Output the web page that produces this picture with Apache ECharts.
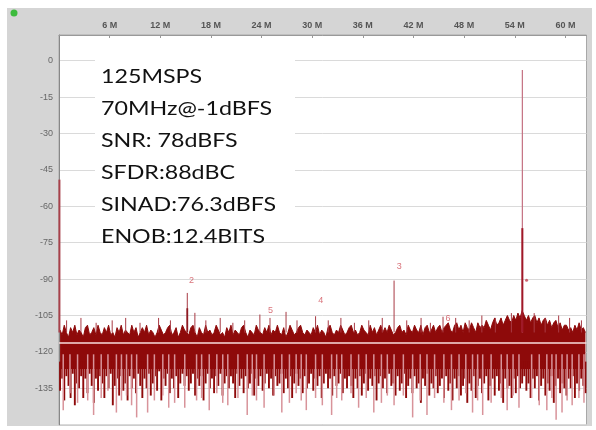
<!DOCTYPE html>
<html>
<head>
<meta charset="utf-8">
<script src="https://cdn.jsdelivr.net/npm/echarts@6/dist/echarts.min.js"></script>
<style>
  html, body { margin: 0; padding: 0; background: #fff; }
  #chart-container { width: 596px; height: 430px; }
</style>
</head>
<body>
<div id="chart-container"></div>
<script>
// FFT bins: 0.25 MHz apart, starting at 0.125 MHz
var BIN_START = 0.125;
var BIN_STEP = 0.25;

// top edge of the noise floor (dBFS), one value per bin
var noiseTop = [
  -111,-113,-109,-112,-114,-110,-112,-109,-113,-111,-112,-114,-110,-109,-113,-112,-110,-113,-109,-112,
  -113,-110,-112,-109,-113,-112,-114,-110,-112,-109,-113,-111,-112,-113,-109,-112,-110,-114,-112,-110,
  -112,-109,-113,-111,-112,-114,-112,-109,-111,-113,-112,-110,-109,-113,-112,-110,-114,-112,-109,-111,
  -112,-113,-110,-109,-112,-114,-110,-112,-113,-109,-112,-111,-113,-112,-109,-111,-113,-112,-114,-110,
  -112,-109,-113,-111,-112,-113,-110,-109,-112,-114,-111,-112,-113,-109,-111,-112,-113,-110,-112,-109,
  -113,-111,-112,-109,-112,-113,-110,-114,-112,-109,-111,-113,-112,-110,-109,-112,-113,-111,-112,-113,
  -110,-112,-109,-113,-111,-112,-114,-110,-109,-112,-113,-111,-112,-109,-111,-113,-112,-110,-109,-112,
  -111,-113,-112,-109,-111,-112,-113,-109,-112,-110,-113,-111,-109,-112,-110,-112,-109,-111,-113,-112,
  -110,-109,-112,-111,-113,-109,-111,-112,-109,-111,-112,-109,-113,-110,-109,-112,-111,-109,-112,-110,
  -109,-112,-110,-109,-108,-111,-112,-109,-108,-111,-109,-112,-108,-110,-111,-108,-110,-112,-108,-110,
  -109,-110,-107,-109,-111,-108,-106,-109,-108,-106,-109,-107,-105,-107,-108,-105,-107,-104,-106,-103,
  -105,-107,-105,-108,-106,-105,-108,-106,-109,-107,-106,-109,-107,-110,-108,-107,-110,-108,-111,-109,
  -109,-111,-110,-112,-109,-111,-108,-111,-110,-112
];

// depth of the dark streaks under the floor, one value per bin
var noiseLow = [
  -136,-131,-140,-130,-134,-139,-129,-142,-133,-135,-130,-139,-131,-137,-129,-134,-141,-131,-136,-130,
  -133,-139,-130,-135,-129,-142,-134,-131,-138,-130,-136,-133,-140,-130,-135,-131,-137,-129,-134,-139,
  -131,-135,-129,-138,-133,-130,-136,-128,-140,-131,-134,-129,-137,-131,-135,-130,-139,-133,-129,-134,
  -130,-136,-133,-129,-138,-131,-134,-130,-140,-133,-129,-135,-131,-137,-130,-134,-129,-138,-133,-130,
  -135,-130,-133,-139,-129,-134,-131,-137,-130,-135,-133,-129,-138,-131,-134,-130,-136,-133,-129,-135,
  -131,-138,-130,-134,-133,-129,-137,-131,-135,-130,-139,-133,-129,-134,-131,-137,-130,-135,-133,-129,
  -136,-131,-134,-130,-139,-133,-129,-135,-131,-138,-130,-134,-133,-129,-137,-131,-135,-130,-134,-139,
  -131,-135,-130,-138,-133,-129,-136,-131,-134,-130,-140,-133,-130,-135,-131,-137,-129,-134,-133,-138,
  -130,-136,-133,-129,-139,-134,-131,-137,-130,-135,-133,-141,-131,-134,-129,-138,-133,-135,-130,-137,
  -134,-131,-139,-130,-136,-133,-140,-131,-135,-130,-138,-134,-131,-141,-133,-136,-130,-139,-134,-131,
  -137,-133,-130,-140,-134,-131,-138,-130,-136,-133,-141,-131,-135,-134,-139,-131,-137,-130,-135,-133,
  -130,-136,-133,-139,-131,-135,-130,-140,-134,-131,-138,-133,-136,-130,-141,-134,-131,-137,-133,-135,
  -138,-131,-135,-130,-139,-133,-136,-131,-134,-137
];

// light deep dips [MHz, dBFS]
var pinkTails = [
  [0.5,-144],[1.3,-137],[2.2,-141],[3.4,-140],[4.1,-146],[5.0,-139],[5.8,-136],[6.8,-145],[7.4,-140],
  [8.0,-138],[8.6,-142],[9.2,-147],[10.5,-145],[11.3,-140],[12.3,-138],[13.0,-143],[13.7,-141],
  [14.9,-143],[16.3,-140],[16.9,-139],[17.8,-144],[18.7,-137],[19.4,-141],[20.0,-142],[21.2,-139],
  [22.3,-146],[22.9,-138],[23.4,-140],[24.3,-143],[25.5,-138],[26.4,-145],[27.3,-141],[28.1,-137],
  [28.7,-140],[29.3,-144],[30.4,-139],[31.2,-142],[32.3,-146],[32.9,-139],[33.5,-140],[34.6,-137],
  [35.5,-143],[36.4,-139],[37.3,-145],[38.2,-141],[38.9,-138],[39.7,-142],[40.8,-138],[41.9,-147],
  [42.8,-140],[43.6,-146],[44.5,-139],[45.6,-141],[46.5,-144],[47.4,-140],[48.2,-137],[49.0,-145],
  [49.6,-140],[50.2,-146],[51.2,-141],[52.4,-139],[53.1,-144],[53.8,-138],[54.5,-143],[56.0,-139],
  [56.9,-142],[57.8,-144],[58.4,-139],[58.9,-148],[59.6,-145],[60.2,-140],[60.8,-142],[61.6,-139],
  [62.2,-141]
];

// peaks poking above the floor [MHz, dBFS]
var spikes = [
  [0.9,-107],[2.6,-106],[4.4,-108],[6.3,-107],[7.9,-106],[9.6,-108],[11.8,-106],[13.2,-107],
  [15.2,-95.7],[16.1,-103.9],[17.4,-107],[19.1,-106],[20.6,-108],[22.0,-107],[23.8,-104.6],
  [25.0,-106],[26.9,-103.5],[28.2,-107],[30.4,-105.3],[31.9,-107],[33.4,-106],[35.0,-108],
  [36.7,-107],[38.3,-106],[39.7,-90.6],[41.2,-107],[42.9,-106],[44.0,-108],[45.5,-105.5],
  [47.0,-106],[48.6,-107],[50.1,-105],[51.7,-106],[53.6,-104],[56.3,-104],[57.6,-106],
  [59.2,-105],[60.5,-106],[61.9,-107]
];

var dcSpur = [0.05, -49];
var fundamental = [54.9, -3.8];
var fundamentalCore = [54.9, -69];
var secondCore = [15.2, -102];
var avgLevel = -116.2;
var starMark = [55.4, -90.5];

// harmonic markers [MHz, dBFS, text]
var harmonicLabels = [
  [15.7, -90.6, '2'], [40.3, -85.0, '3'], [31.0, -99.0, '4'], [25.05, -103.1, '5'], [46.1, -106.4, '6']
];

var infoLines = ['125MSPS', '70MHz@-1dBFS', 'SNR: 78dBFS', 'SFDR:88dBC', 'SINAD:76.3dBFS', 'ENOB:12.4BITS'];

var topData = noiseTop.map(function (v, i) { return [BIN_START + i * BIN_STEP, v]; });
var lowData = noiseLow.map(function (v, i) { return [BIN_START + i * BIN_STEP, -124, v]; });
var tailData = pinkTails.map(function (d) { return [d[0], -121, d[1]]; });
var spikeData = spikes.map(function (d) { return [d[0], -112, d[1]]; });

function vline(color, width) {
  return function (params, api) {
    var p0 = api.coord([api.value(0), api.value(1)]);
    var p1 = api.coord([api.value(0), api.value(2)]);
    return {
      type: 'line',
      shape: { x1: p0[0], y1: p0[1], x2: p1[0], y2: p1[1] },
      style: { stroke: color, lineWidth: width }
    };
  };
}

var chartDom = document.getElementById('chart-container');
var myChart = echarts.init(chartDom);

var texts = infoLines.map(function (t, i) {
  return {
    type: 'text',
    z: 20,
    x: 0,
    y: 27 + i * 32,
    style: { text: t, fill: '#111', fontSize: 19.5, fontFamily: 'Lato', verticalAlign: 'middle' }
  };
});

var option = {
  animation: false,
  backgroundColor: '#fff',
  graphic: [
    { type: 'rect', z: -10, shape: { x: 7, y: 8, width: 585, height: 418 }, style: { fill: '#d5d5d5' } },
    { type: 'circle', shape: { cx: 14, cy: 13, r: 3.5 }, style: { fill: '#3dbb3d' } },
    { type: 'rect', z: 5, shape: { x: 95, y: 50, width: 200, height: 188 }, style: { fill: '#fff' } },
    { type: 'group', z: 20, x: 101, y: 50, scaleX: 1.19, children: texts }
  ],
  grid: {
    left: 59,
    right: 9.5,
    top: 35,
    bottom: 5.3,
    show: true,
    backgroundColor: '#fff',
    borderColor: '#a8a8a8',
    borderWidth: 1
  },
  xAxis: {
    type: 'value',
    position: 'top',
    min: 0,
    max: 62.5,
    interval: 6,
    axisLine: { show: true, onZero: false, lineStyle: { color: '#999' } },
    axisTick: { show: true, inside: true, length: 3, lineStyle: { color: '#999' } },
    splitLine: { show: false },
    axisLabel: {
      showMinLabel: false,
      showMaxLabel: false,
      margin: 5,
      color: '#555',
      fontSize: 9,
      fontWeight: 'bold',
      fontFamily: 'Liberation Sans',
      formatter: function (v) { return v + ' M'; }
    }
  },
  yAxis: {
    type: 'value',
    min: -150,
    max: 10.6,
    interval: 15,
    axisLine: { show: true, onZero: false, lineStyle: { color: '#888' } },
    axisTick: { show: false },
    splitLine: { lineStyle: { color: '#dadada' } },
    axisLabel: {
      showMinLabel: false,
      showMaxLabel: false,
      margin: 6,
      color: '#666',
      fontSize: 9,
      fontFamily: 'Liberation Sans'
    }
  },
  series: [
    {
      type: 'line',
      data: topData,
      showSymbol: false,
      lineStyle: { color: '#8e0a0a', width: 1 },
      areaStyle: { color: '#8e0a0a', opacity: 1, origin: -127 },
      z: 2
    },
    {
      type: 'custom',
      data: lowData,
      encode: { x: 0, y: [1, 2] },
      renderItem: vline('#8e0a0a', 1.9),
      z: 3
    },
    {
      type: 'custom',
      data: tailData,
      encode: { x: 0, y: [1, 2] },
      renderItem: vline('#d8939a', 1.5),
      z: 4,
      markLine: {
        silent: true,
        symbol: 'none',
        label: { show: false },
        lineStyle: { color: '#f8dede', width: 1.6, type: 'solid' },
        data: [{ yAxis: avgLevel }]
      }
    },
    {
      type: 'custom',
      data: spikeData,
      encode: { x: 0, y: [1, 2] },
      renderItem: vline('#a83a44', 1),
      z: 5
    },
    {
      type: 'custom',
      data: [
        [dcSpur[0], -112, dcSpur[1], '#a8404a', 2],
        [fundamental[0], -112, fundamental[1], '#c47080', 1.2],
        [fundamentalCore[0], -112, fundamentalCore[1], '#a01828', 2],
        [secondCore[0], -112, secondCore[1], '#8e1a22', 1.8]
      ],
      encode: { x: 0, y: [1, 2] },
      renderItem: function (params, api) {
        var p0 = api.coord([api.value(0), api.value(1)]);
        var p1 = api.coord([api.value(0), api.value(2)]);
        return {
          type: 'line',
          shape: { x1: p0[0], y1: p0[1], x2: p1[0], y2: p1[1] },
          style: { stroke: api.value(3), lineWidth: api.value(4) }
        };
      },
      z: 6
    },
    {
      type: 'scatter',
      data: harmonicLabels,
      symbolSize: 0,
      label: {
        show: true,
        position: 'inside',
        color: '#d0505a',
        fontSize: 9,
        fontFamily: 'Liberation Sans',
        formatter: function (p) { return p.value[2]; }
      },
      z: 7
    },
    {
      type: 'scatter',
      data: [starMark],
      symbol: 'circle',
      symbolSize: 3,
      itemStyle: { color: '#c04050' },
      z: 7
    }
  ]
};

myChart.setOption(option);

window.addEventListener('resize', function () {
  myChart.resize();
});
</script>
</body>
</html>
